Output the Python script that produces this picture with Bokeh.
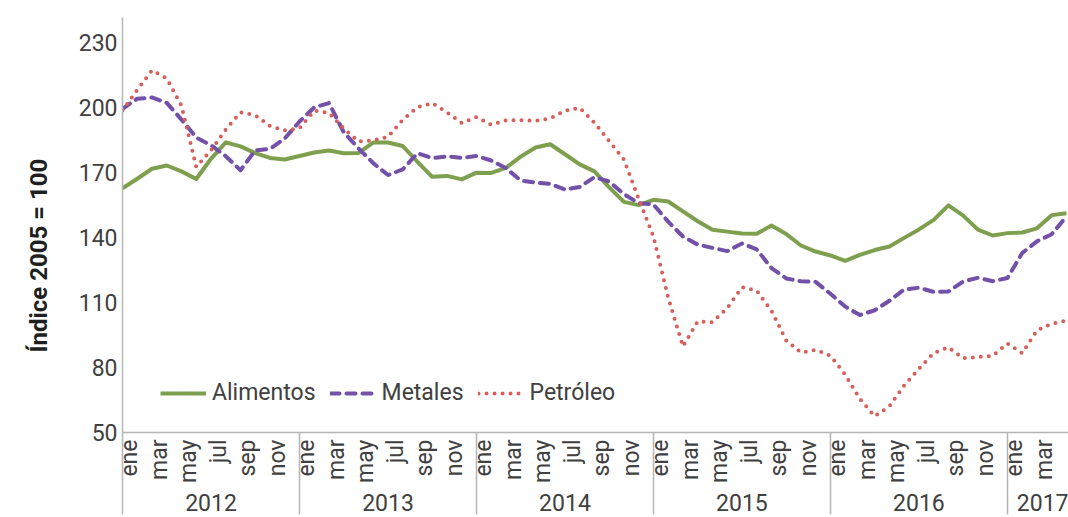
import math
from bokeh.plotting import figure
from bokeh.models import (LinearAxis, FixedTicker, Range1d, Legend, LegendItem, Title)
from bokeh.embed import file_html
from bokeh.resources import INLINE

# ---- data (monthly, ene 2012 .. may 2017) ----
month_names = ["ene", "feb", "mar", "abr", "may", "jun", "jul", "ago", "sep", "oct", "nov", "dic"]
years = ["2012", "2013", "2014", "2015", "2016", "2017"]
months_in_group = [12, 12, 12, 12, 12, 6]
y_ticks = [50, 80, 110, 140, 170, 200, 230]

alimentos = [162.7, 167.1, 171.7, 173.2, 170.5, 167.0, 176.3, 183.9, 182.0, 178.9, 176.7, 176.0,
             177.6, 179.2, 180.1, 178.9, 179.0, 183.8, 183.8, 182.2, 174.9, 168.0, 168.4, 166.8,
             169.9, 169.8, 172.1, 177.3, 181.5, 183.0, 178.4, 173.7, 170.5, 163.1, 156.4, 154.9,
             157.4, 156.6, 152.0, 147.5, 143.6, 142.7, 141.8, 141.7, 145.5, 141.6, 136.3, 133.5,
             131.7, 129.2, 132.0, 134.2, 135.8, 139.8, 143.7, 148.1, 154.8, 150.1, 143.6, 140.9,
             142.0, 142.3, 144.2, 150.3, 151.2]
metales = [199.4, 204.0, 204.6, 202.1, 194.4, 186.1, 182.6, 177.5, 171.0, 180.2, 180.9, 185.7,
           193.5, 200.0, 202.0, 188.6, 181.1, 174.3, 168.8, 171.4, 178.9, 176.6, 177.4, 176.7,
           177.6, 175.5, 172.0, 166.3, 165.3, 164.7, 162.1, 163.3, 167.8, 165.8, 160.0, 155.8,
           155.2, 147.3, 140.4, 136.7, 135.2, 133.7, 137.2, 134.5, 125.9, 121.1, 119.8, 119.5,
           114.0, 108.1, 104.2, 106.4, 110.8, 116.0, 116.8, 114.9, 115.1, 119.7, 121.4, 119.8,
           121.3, 132.8, 138.2, 141.5, 149.7]
petroleo = [198.6, 208.1, 217.1, 213.4, 200.8, 172.5, 180.2, 189.8, 197.7, 196.4, 191.4, 189.4,
            190.4, 198.5, 197.5, 190.3, 184.3, 184.8, 186.4, 194.3, 200.1, 202.0, 197.7, 192.8,
            195.6, 192.0, 194.0, 194.1, 193.8, 195.0, 198.5, 199.8, 192.9, 184.4, 175.9, 157.8,
            140.4, 112.2, 89.7, 101.3, 100.9, 107.4, 117.0, 115.5, 106.2, 92.5, 86.9, 88.1,
            85.4, 76.7, 65.4, 57.5, 62.1, 71.7, 79.4, 86.7, 89.3, 84.3, 84.8, 85.4,
            91.1, 86.6, 97.1, 100.2, 101.6]

x = list(range(len(alimentos)))

FONT = "Roboto"
TXT = "#404040"
AXIS = "#b5b5b5"
GREEN = "#7d9f4e"
PURPLE = "#7451a8"
RED = "#d65f5a"

p = figure(width=1068, height=517, output_backend="svg", toolbar_location=None,
           x_range=Range1d(0, 64.14), y_range=Range1d(50, 241.5),
           min_border_left=122, min_border_right=0, min_border_top=17, min_border_bottom=85,
           x_axis_type=None, y_axis_type=None)
p.outline_line_color = None
p.background_fill_color = "white"
p.border_fill_color = "white"

# y axis
yax = LinearAxis(ticker=FixedTicker(ticks=y_ticks))
yax.axis_line_color = AXIS
yax.axis_line_width = 1.5
yax.major_tick_line_color = None
yax.minor_tick_line_color = None
yax.major_tick_out = 0
yax.major_tick_in = 0
yax.major_label_standoff = 5
yax.major_label_text_font = FONT
yax.major_label_text_font_size = "23px"
yax.major_label_text_color = TXT
p.add_layout(yax, "left")

# month axis (year separators drawn as outward minor ticks)
month_ticks = [i + 0.5 for i in x if i % 2 == 0]
month_over = {i + 0.5: month_names[i % 12] for i in x if i % 2 == 0}
bounds = []
acc = 0
for n in months_in_group:
    bounds.append(acc)
    acc += n
xax = LinearAxis(ticker=FixedTicker(ticks=month_ticks, minor_ticks=bounds))
xax.major_label_overrides = month_over
xax.major_label_orientation = math.pi / 2
xax.axis_line_color = AXIS
xax.axis_line_width = 1.5
xax.major_tick_line_color = None
xax.major_tick_out = 0
xax.major_tick_in = 0
xax.minor_tick_in = -82
xax.minor_tick_out = 0
xax.minor_tick_line_color = AXIS
xax.minor_tick_line_width = 1.5
xax.major_label_standoff = 7
xax.major_label_text_font = FONT
xax.major_label_text_font_size = "23px"
xax.major_label_text_color = TXT
p.add_layout(xax, "below")

# year axis
centers = []
acc = 0
for n in months_in_group:
    centers.append(acc + n / 2)
    acc += n
yr = LinearAxis(ticker=FixedTicker(ticks=centers, minor_ticks=[]))
yr.major_label_overrides = {c: y for c, y in zip(centers, years)}
yr.axis_line_color = None
yr.major_tick_line_color = None
yr.minor_tick_line_color = None
yr.major_tick_out = 0
yr.major_tick_in = 0
yr.major_label_standoff = 8
yr.major_label_text_font = FONT
yr.major_label_text_font_size = "23px"
yr.major_label_text_color = TXT
p.add_layout(yr, "below")

r1 = p.line(x, alimentos, line_color=GREEN, line_width=4, line_join="round")
r2 = p.line(x, metales, line_color=PURPLE, line_width=4, line_dash="9 7", line_cap="round", line_join="round")
r3 = p.line(x, petroleo, line_color=RED, line_width=4, line_dash="0 8", line_cap="round")

legend = Legend(items=[LegendItem(label="Alimentos", renderers=[r1]),
                       LegendItem(label="Metales", renderers=[r2]),
                       LegendItem(label="Petróleo", renderers=[r3])],
                orientation="horizontal", location=(38, 26))
legend.glyph_width = 46
legend.glyph_height = 24
legend.label_height = 24
legend.label_standoff = 6
legend.spacing = 14
legend.padding = 0
legend.margin = 0
legend.border_line_color = None
legend.background_fill_alpha = 0
legend.label_text_font = FONT
legend.label_text_font_size = "23px"
legend.label_text_color = TXT
p.add_layout(legend, "center")

t = Title(text="Índice 2005 = 100", align="left", offset=80, text_font=FONT,
          text_font_size="24px", text_font_style="bold", text_color="#1f1f1f", standoff=45)
p.add_layout(t, "left")

open("out.html", "w").write(file_html(p, INLINE))
